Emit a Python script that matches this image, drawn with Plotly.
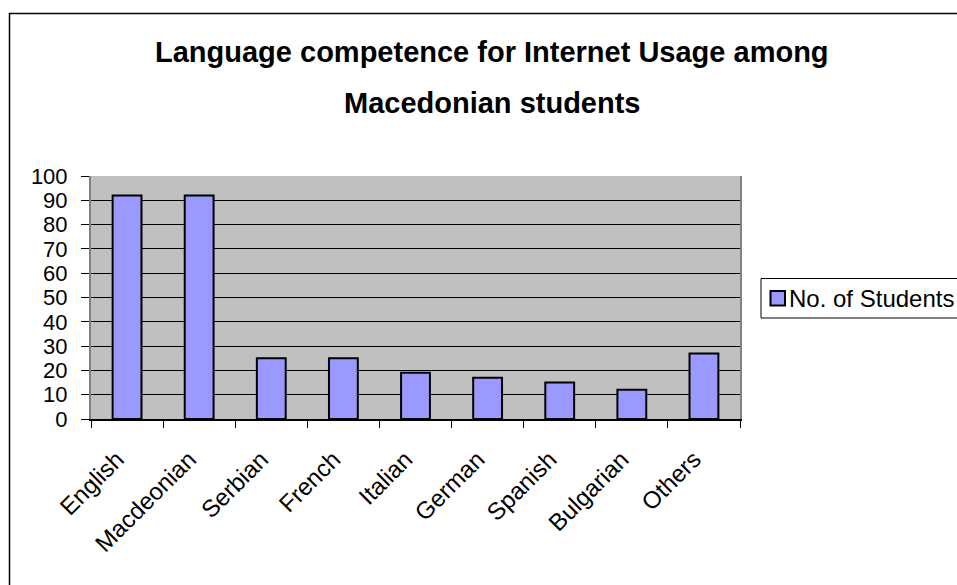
import plotly.graph_objects as go

languages = ["English", "Macdeonian", "Serbian", "French", "Italian",
             "German", "Spanish", "Bulgarian", "Others"]
students = [92, 92, 25, 25, 19, 17, 15, 12, 27]
y_ticks = list(range(0, 101, 10))
title_lines = ["Language competence for Internet Usage among", "Macedonian students"]
series_name = "No. of Students"

W, H = 957, 585
px_l, px_r, px_t, px_b = 91, 740, 176, 419
FONT = "Arial, Liberation Sans, sans-serif"
BAR_FILL = "#9999ff"


def px_x(v):
    return v / W


def px_y(v):
    return 1 - v / H


fig = go.Figure()
fig.add_trace(go.Bar(
    x=languages, y=students, name=series_name,
    marker=dict(color=BAR_FILL, line=dict(color="black", width=2)),
    width=0.4, showlegend=False,
))

# two-line bold title, placed as separate annotations for wider line spacing
title_y = [52, 103]
annotations = [
    dict(text=f"<b>{t}</b>", xref="paper", yref="paper",
         x=px_x(492), y=px_y(yy), xanchor="center", yanchor="middle",
         showarrow=False, font=dict(size=29, color="black", family=FONT))
    for t, yy in zip(title_lines, title_y)
]
# legend label (legend box is drawn with shapes so it can run past the edge)
annotations.append(dict(
    text=series_name, xref="paper", yref="paper",
    x=px_x(787), y=px_y(298), xanchor="left", yanchor="middle",
    showarrow=False, font=dict(size=24, color="black", family=FONT)))

shapes = [
    # outer chart frame
    dict(type="rect", xref="paper", yref="paper",
         x0=px_x(9.5), x1=1.05, y0=-0.05, y1=px_y(13.5),
         line=dict(color="black", width=1.5), fillcolor="rgba(0,0,0,0)",
         layer="below"),
    # legend box
    dict(type="rect", xref="paper", yref="paper",
         x0=px_x(761), x1=1.05, y0=px_y(318), y1=px_y(278.5),
         line=dict(color="black", width=1), fillcolor="white"),
    # legend swatch
    dict(type="rect", xref="paper", yref="paper",
         x0=px_x(770.5), x1=px_x(785), y0=px_y(305.5), y1=px_y(291),
         line=dict(color="black", width=2), fillcolor=BAR_FILL),
]

fig.update_layout(
    width=W, height=H, autosize=False,
    margin=dict(l=0, r=0, t=0, b=0),
    paper_bgcolor="white", plot_bgcolor="#c0c0c0",
    font=dict(family=FONT, color="black"),
    showlegend=False,
    annotations=annotations,
    shapes=shapes,
    xaxis=dict(
        domain=[px_x(px_l), px_x(px_r)], automargin=False,
        tickangle=-45, tickfont=dict(size=24),
        ticklabelstandoff=15, ticklabelshift=-10,
        ticks="outside", tickson="boundaries", ticklen=7, tickcolor="black",
        showline=True, linecolor="black", linewidth=1.5, mirror=False,
        showgrid=False,
    ),
    yaxis=dict(
        domain=[px_y(px_b), px_y(px_t)], automargin=False,
        range=[0, 100], tickvals=y_ticks, tickfont=dict(size=22),
        ticks="outside", ticklen=8, tickcolor="black", ticklabelstandoff=9,
        showline=True, linecolor="#808080", linewidth=2, mirror=True,
        showgrid=True, gridcolor="black", gridwidth=1,
        zeroline=False,
    ),
    bargap=0.6,
)

fig.write_html("out.html")
